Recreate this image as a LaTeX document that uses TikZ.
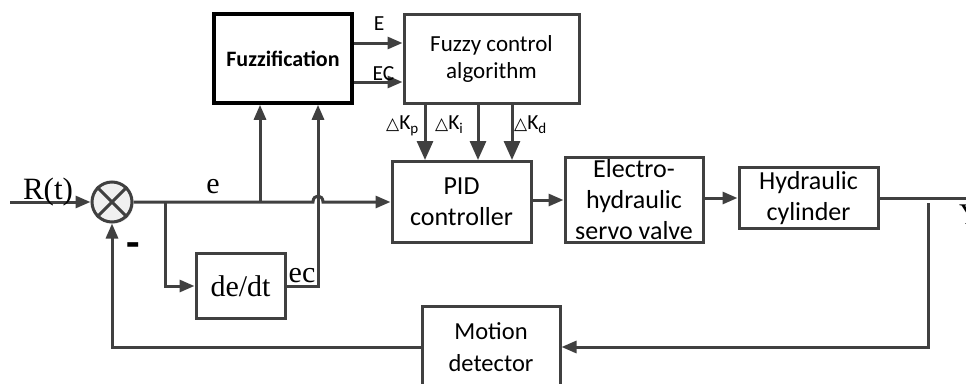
\documentclass[tikz,border=0pt]{standalone}
\usepackage{fontspec}
\setmainfont{Carlito}
\newfontfamily\serifr{Liberation Serif}
\newfontfamily\dejavu{DejaVu Sans}
\usetikzlibrary{arrows.meta,shadows}
\definecolor{lc}{HTML}{404040}
\newcommand\dK[1]{{\dejavu\fontsize{17pt}{17pt}\selectfont △}K\raisebox{-0.45ex}{\fontsize{15pt}{15pt}\selectfont #1}}
\begin{document}
\begin{tikzpicture}[x=1pt,y=-1pt,
  ln/.style={draw=lc,line width=3pt},
  arr/.style={ln,-{Triangle[length=15pt,width=12pt]}},
  bigarr/.style={ln,-{Triangle[length=19pt,width=16pt]}},
  blk/.style={draw=lc,line width=3pt,align=center,inner sep=0pt,
    font=\fontsize{26pt}{31pt}\selectfont},
  serlab/.style={font=\serifr\fontsize{30pt}{36pt}\selectfont,inner sep=0pt},
  smlab/.style={font=\fontsize{21.5pt}{24pt}\selectfont,inner sep=0pt}]
\useasboundingbox (0,0) rectangle (966,383);

% blocks
\node[blk,minimum width=139pt,minimum height=81pt] (pid) at (461.5,202) {PID\\controller};
\node[blk,minimum width=138pt,minimum height=85pt] (eh) at (634,200) {Electro-\\hydraulic\\servo valve};
\node[blk,minimum width=139pt,minimum height=61pt] (hc) at (808.5,198) {Hydraulic\\cylinder};
\node[draw=black,line width=3.6pt,minimum width=138pt,minimum height=89pt,inner sep=0pt,
  font=\bfseries\fontsize{22pt}{26pt}\selectfont] (fuzz) at (283,58.5) {Fuzzification};
\node[blk,minimum width=175pt,minimum height=89pt,font=\fontsize{23pt}{27pt}\selectfont]
  (fc) at (491.5,58.5) {Fuzzy control\\algorithm};
\node[blk,minimum width=89pt,minimum height=65pt,font=\serifr\fontsize{30pt}{36pt}\selectfont]
  (dedt) at (240.5,286) {de/dt};
\node[blk,minimum width=138pt,minimum height=82pt,font=\fontsize{24.5pt}{32pt}\selectfont]
  (md) at (491,347) {Motion\\detector};

% summing junction
\node[circle,draw=lc,line width=3pt,fill=gray!12,minimum size=40pt,inner sep=0pt,
  drop shadow={shadow xshift=1.5pt,shadow yshift=-1.5pt,opacity=0.25}] (sum) at (112,202) {};
\draw[ln] (sum.north west) -- (sum.south east) (sum.north east) -- (sum.south west);

% coordinates
\coordinate (in) at (10,202);
\coordinate (j1) at (165,202);
\coordinate (j2) at (260,202);
\coordinate (hopL) at (313,202);
\coordinate (hopR) at (323,202);
\coordinate (c2) at (318,286);
\coordinate (out) at (966,198);
\coordinate (tap) at (928,203);

% connectors
\draw[arr] (in) -- (sum.west);
\draw[arr] (sum.east) -- (hopL) .. controls (313,194) and (323,194) .. (hopR) -- (pid.west);
\draw[arr] (j1) |- (dedt.west);
\draw[arr] (dedt.east) -- (c2) -- (c2 |- fuzz.south);
\draw[arr] (j2) -- (j2 |- fuzz.south);
\draw[arr] ([yshift=15.5pt]fuzz.east) -- ([yshift=15.5pt]fc.west);
\draw[arr] ([yshift=-23.5pt]fuzz.east) -- ([yshift=-23.5pt]fc.west);
\draw[bigarr] ([xshift=-66.5pt]fc.south) -- ([xshift=-36.5pt]pid.north);
\draw[bigarr] ([xshift=-13.5pt]fc.south) -- ([xshift=16.5pt]pid.north);
\draw[bigarr] ([xshift=20.5pt]fc.south) -- ([xshift=50.5pt]pid.north);
\draw[arr] (pid.east |- eh.west) -- (eh.west);
\draw[arr] (eh.east |- hc.west) -- (hc.west);
\draw[ln] (hc.east) -- (out);
\draw[arr] (tap) |- (md.east);
\draw[arr] (md.west) -| (sum.south);

% labels
\node[serlab,font=\serifr\fontsize{31pt}{36pt}\selectfont,anchor=base] (lr) at (48,199) {R(t)};
\node[serlab,anchor=base] (le) at (213,193) {e};
\node[serlab,anchor=base] (lec) at (302,282) {ec};
\node[inner sep=0pt,font=\bfseries\fontsize{44pt}{46pt}\selectfont] (lm) at (133,250) {-};
\node[smlab,anchor=base] (lE) at (379,30) {E};
\node[smlab,anchor=base] (lEC) at (383.5,80) {EC};
\node[smlab,anchor=base west] (kp) at (386,129) {\dK{p}};
\node[smlab,anchor=base west] (ki) at (435,129) {\dK{i}};
\node[smlab,anchor=base west] (kd) at (514,129) {\dK{d}};
\node[serlab,anchor=north west] (ly) at (959,203) {Y(t)};
\end{tikzpicture}
\end{document}
